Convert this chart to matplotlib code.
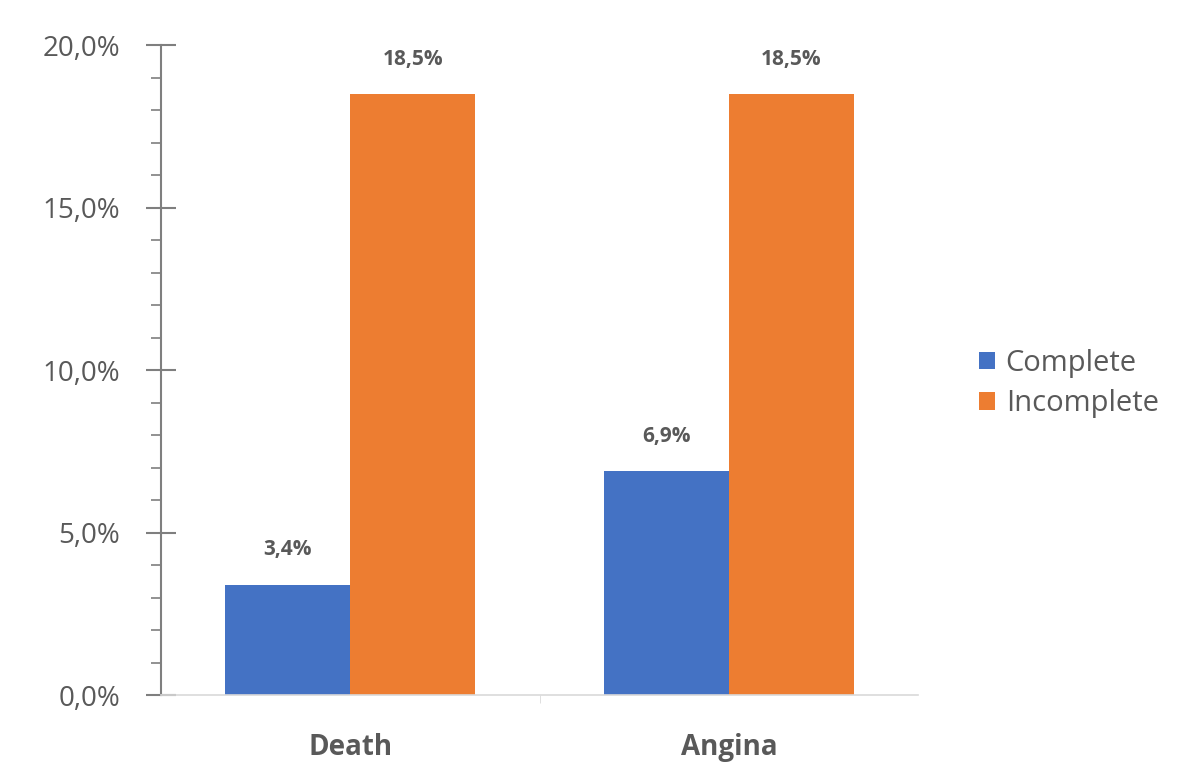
import numpy as np
import matplotlib
matplotlib.use("Agg")
import matplotlib.pyplot as plt
from matplotlib.ticker import MultipleLocator, FuncFormatter

categories = ["Death", "Angina"]
series_names = ["Complete", "Incomplete"]
complete = [3.4, 6.9]
incomplete = [18.5, 18.5]

BLUE = "#4472C4"
ORANGE = "#ED7D31"
GRAY = "#595959"

plt.rcParams["font.family"] = ["Open Sans", "DejaVu Sans"]

fig = plt.figure(figsize=(11.99, 7.64), dpi=100)
ax = fig.add_axes([0.134, 0.090, 0.632, 0.851])

x = np.arange(len(categories))
w = 0.33
b1 = ax.bar(x - w / 2, complete, w, color=BLUE, label=series_names[0])
b2 = ax.bar(x + w / 2, incomplete, w, color=ORANGE, label=series_names[1])

for bars in (b1, b2):
    for rect in bars:
        h = rect.get_height()
        ax.annotate(f"{h:.1f}%".replace(".", ","),
                    (rect.get_x() + rect.get_width() / 2, h),
                    xytext=(0, 25), textcoords="offset points",
                    ha="center", va="center", fontsize=15,
                    fontweight="bold", color=GRAY)

ax.set_xlim(-0.5, 1.5)
ax.set_ylim(0, 20)
ax.yaxis.set_major_locator(MultipleLocator(5))
ax.yaxis.set_minor_locator(MultipleLocator(1))
ax.yaxis.set_major_formatter(FuncFormatter(lambda v, p: f"{v:.1f}%".replace(".", ",")))
ax.tick_params(axis="y", which="major", direction="inout", length=22, width=1.5,
               color="#7f7f7f", labelsize=20, labelcolor=GRAY, pad=18)
ax.tick_params(axis="y", which="minor", direction="out", length=7, width=1.2,
               color="#7f7f7f")

ax.set_xticks(x)
ax.set_xticklabels(categories, fontsize=20, fontweight="bold", color=GRAY)
ax.tick_params(axis="x", length=0, pad=27)
ax.set_xticks([0.5], minor=True)
ax.tick_params(axis="x", which="minor", length=6, color="#d9d9d9")

for s in ("top", "right"):
    ax.spines[s].set_visible(False)
ax.spines["left"].set_color("#7f7f7f")
ax.spines["left"].set_linewidth(1.5)
ax.spines["bottom"].set_color("#d9d9d9")
ax.spines["bottom"].set_linewidth(1.2)

fig.legend(handles=[b1, b2], loc="center left", bbox_to_anchor=(0.795, 0.498),
           frameon=False, fontsize=21, handlelength=0.55, handleheight=0.55,
           handletextpad=0.35, labelspacing=0.4, labelcolor=GRAY)

fig.savefig("out.png", dpi=100)
